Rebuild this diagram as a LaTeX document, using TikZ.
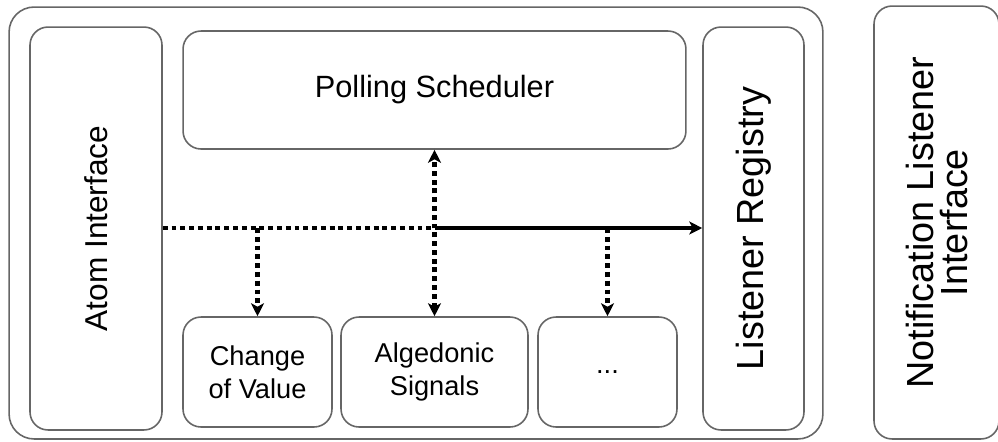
\documentclass[tikz,border=0pt]{standalone}
\usepackage{fontspec}
\setmainfont{Liberation Sans}
\usetikzlibrary{arrows.meta}
\tikzset{
  px/.style={x=0.02cm,y=-0.02cm},
  box/.style={draw=black!60, line width=0.9pt, rounded corners=0.36cm, inner sep=0pt, fill=white, align=center},
  dotline/.style={line width=2.5pt, dash pattern=on 2.8pt off 2.2pt, black},
  tip/.style={-{Stealth[length=0.26cm,width=0.26cm,inset=0.07cm]}},
  bothtip/.style={{Stealth[length=0.26cm,width=0.26cm,inset=0.07cm]}-{Stealth[length=0.26cm,width=0.26cm,inset=0.07cm]}},
  solidline/.style={line width=2.6pt, black},
}
\begin{document}
\begin{tikzpicture}[px]
\useasboundingbox (0,0) rectangle (998,441);
\begin{scope}
\clip (0,0) rectangle (998,441);
\node[box, rounded corners=0.5cm, minimum width=16.28cm, minimum height=8.64cm] (outer) at (416,223) {};
\node[box, minimum width=2.64cm, minimum height=8.06cm] (atom) at (96,228.5) {};
\node[rotate=90, font=\fontsize{18}{22}\selectfont] (atomt) at (atom.center) {Atom Interface};
\node[box, minimum width=10.06cm, minimum height=2.36cm, font=\fontsize{17.5}{21}\selectfont] (poll) at (434.5,90) {Polling Scheduler};
\node[box, minimum width=2.02cm, minimum height=8.06cm] (reg) at (753.5,228.5) {};
\node[rotate=90, font=\fontsize{21.5}{26}\selectfont] (regt) at (reg.center) {Listener Registry};
\node[box, minimum width=2.98cm, minimum height=2.2cm, font=\fontsize{15.5}{19}\selectfont] (cov) at (257.5,372) {Change\\of Value};
\node[box, minimum width=3.74cm, minimum height=2.2cm, font=\fontsize{15.5}{19}\selectfont] (alg) at (434.5,372) {Algedonic\\Signals};
\node[box, minimum width=2.78cm, minimum height=2.2cm, font=\fontsize{15.5}{19}\selectfont] (etc) at (607.5,372) {...};
\node[box, minimum width=2.5cm, minimum height=8.66cm] (notif) at (936.5,222.5) {};
\node[rotate=90, align=center, font=\fontsize{21.5}{19}\selectfont] (notift) at (937,222.5) {Notification Listener\\Interface};
\end{scope}
\coordinate (j1) at (257.5,228);
\coordinate (j2) at (434.5,228);
\coordinate (j3) at (607.5,228);
\draw[dotline] (atom.east |- j1) -- (j2);
\draw[solidline, tip] (j2) -- (reg.west |- j2);
\draw[dotline, tip] (j1) -- (cov.north);
\draw[dotline, tip] (j3) -- (etc.north);
\draw[dotline, bothtip] (alg.north) -- (poll.south);
\end{tikzpicture}
\end{document}
